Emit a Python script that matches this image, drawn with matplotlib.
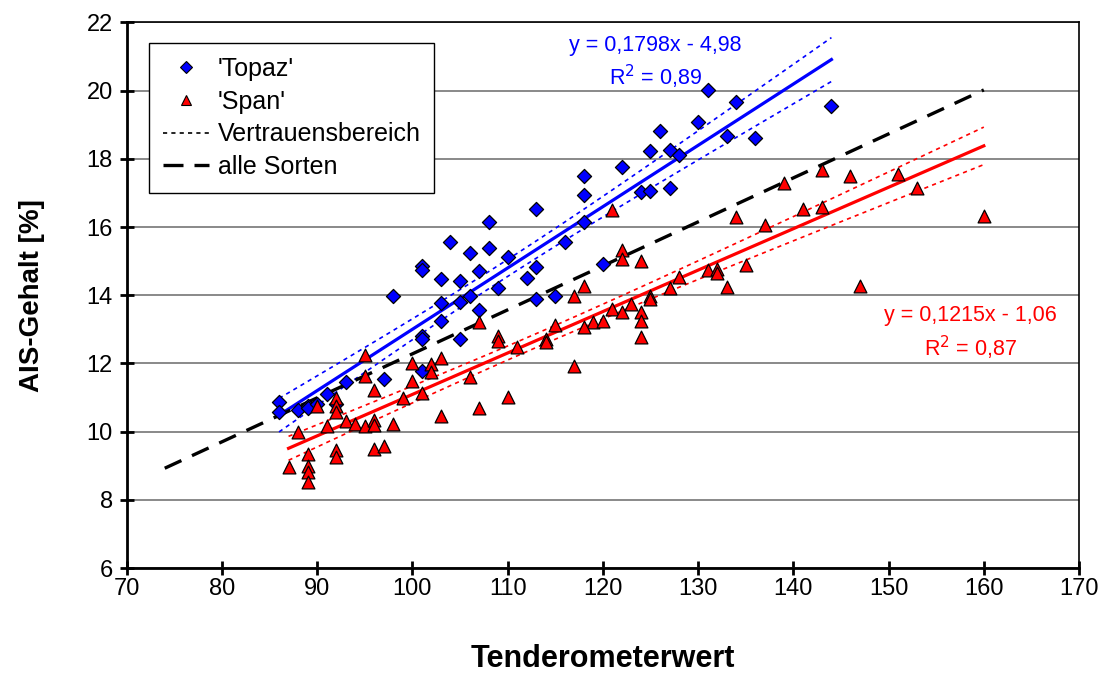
import numpy as np
import matplotlib
matplotlib.use("Agg")
import matplotlib.pyplot as plt
from matplotlib.lines import Line2D

plt.rcParams['font.family'] = ['Liberation Sans', 'DejaVu Sans']

# ---- data ----
topaz_x = [108, 104, 106, 108, 110, 101, 101, 107, 103, 105, 109, 131, 134, 130, 126,
           125, 127, 128, 133, 136, 122, 118, 118, 124, 125, 127, 113, 118, 116, 113,
           112, 120, 144, 98, 103, 105, 106, 107, 103, 101, 101, 105, 101, 97, 93,
           91, 86, 86, 88, 89, 89, 92, 90, 113, 115]
topaz_y = [16.14, 15.57, 15.24, 15.37, 15.11, 14.87, 14.75, 14.72, 14.47, 14.43, 14.20,
           20.02, 19.66, 19.07, 18.81, 18.24, 18.27, 18.11, 18.68, 18.60, 17.77, 17.50,
           16.94, 17.02, 17.05, 17.13, 16.53, 16.16, 15.57, 14.84, 14.50, 14.91, 19.54,
           13.99, 13.76, 13.81, 13.99, 13.57, 13.23, 12.81, 12.72, 12.72, 11.77, 11.54,
           11.46, 11.10, 10.86, 10.58, 10.64, 10.74, 10.68, 10.81, 10.80, 13.89, 13.97]

span_x = [95, 107, 109, 109, 103, 100, 102, 102, 95, 100, 106, 96, 101, 92, 99, 110,
          90, 92, 92, 107, 103, 91, 93, 94, 95, 96, 96, 98, 88, 96, 97, 92, 92, 87,
          89, 89, 89, 89,
          117, 118, 127, 133, 125, 125, 123, 121, 122, 124, 124, 119, 120, 118, 115,
          124, 114, 114, 111, 117,
          121, 134, 137, 122, 122, 124, 135, 131, 132, 132, 128,
          139, 143, 146, 151, 153, 141, 143, 160, 147]
span_y = [12.25, 13.20, 12.81, 12.67, 12.16, 12.01, 11.98, 11.74, 11.62, 11.49, 11.59,
          11.23, 11.13, 11.00, 11.00, 11.02, 10.76, 10.76, 10.58, 10.69, 10.47, 10.17,
          10.30, 10.22, 10.17, 10.35, 10.19, 10.22, 9.98, 9.49, 9.59, 9.46, 9.25, 8.95,
          9.34, 9.00, 8.82, 8.53,
          13.99, 14.28, 14.20, 14.23, 13.99, 13.89, 13.74, 13.60, 13.52, 13.52, 13.25,
          13.22, 13.23, 13.08, 13.13, 12.77, 12.72, 12.62, 12.47, 11.93,
          16.51, 16.28, 16.07, 15.33, 15.06, 14.99, 14.89, 14.74, 14.77, 14.65, 14.52,
          17.29, 17.67, 17.49, 17.55, 17.15, 16.53, 16.58, 16.32, 14.26]

# regression coefficients as printed on the chart
topaz_fit = (0.1798, -4.98)
span_fit = (0.1215, -1.06)
all_fit = (0.129, -0.62)          # "alle Sorten"
all_range = (74, 160)

topaz_label = "y = 0,1798x - 4,98\nR$^2$ = 0,89"
span_label = "y = 0,1215x - 1,06\nR$^2$ = 0,87"

BLUE = "#0000FF"
RED = "#FF0000"

fig = plt.figure(figsize=(11.09, 6.75), dpi=100)
ax = fig.add_axes([0.1142, 0.1585, 0.8588, 0.8083])


def conf_band(x, y, fit, t=2.0):
    x = np.asarray(x, float)
    y = np.asarray(y, float)
    m, b = fit
    res = y - (m * x + b)
    n = len(x)
    s = np.sqrt(np.sum(res ** 2) / (n - 2))
    xm = x.mean()
    sxx = np.sum((x - xm) ** 2)
    xs = np.linspace(x.min(), x.max(), 100)
    yc = m * xs + b
    half = t * s * np.sqrt(1.0 / n + (xs - xm) ** 2 / sxx)
    return xs, yc, yc - half, yc + half


for xd, yd, fit, col in [(topaz_x, topaz_y, topaz_fit, BLUE), (span_x, span_y, span_fit, RED)]:
    xs, yc, lo, hi = conf_band(xd, yd, fit)
    ax.plot(xs, lo, color=col, lw=1.2, ls=(0, (2.5, 2.5)), zorder=3)
    ax.plot(xs, hi, color=col, lw=1.2, ls=(0, (2.5, 2.5)), zorder=3)
    ax.plot(xs, yc, color=col, lw=2.3, zorder=3)

xa = np.array(all_range, float)
ax.plot(xa, all_fit[0] * xa + all_fit[1], color="black", lw=2.4,
        ls=(0, (5.5, 3.5)), zorder=3)

ax.scatter(topaz_x, topaz_y, marker="D", s=52, facecolor=BLUE, edgecolor="black",
           linewidth=0.9, zorder=4)
ax.scatter(span_x, span_y, marker="^", s=85, facecolor=RED, edgecolor="black",
           linewidth=0.9, zorder=4)

ax.text(125.5, 20.82, topaz_label, color=BLUE, fontsize=15.5, ha="center", va="center",
        linespacing=1.3)
ax.text(158.6, 12.88, span_label, color=RED, fontsize=15.5, ha="center", va="center",
        linespacing=1.35)

ax.set_xlim(70, 170)
ax.set_ylim(6, 22)
ax.set_xticks(np.arange(70, 171, 10))
ax.set_yticks(np.arange(6, 23, 2))
ax.yaxis.grid(True, color="#808080", lw=1.3)
ax.set_axisbelow(True)
for sp in ax.spines.values():
    sp.set_linewidth(1.2)
ax.spines["left"].set_linewidth(2)
ax.spines["bottom"].set_linewidth(2)
ax.tick_params(axis="both", direction="inout", length=10, width=2, labelsize=17)
ax.tick_params(axis="x", pad=2)
ax.tick_params(axis="y", pad=5)

ax.set_xlabel("Tenderometerwert", fontsize=22, fontweight="bold", labelpad=32)
ax.set_ylabel("AIS-Gehalt [%]", fontsize=20, fontweight="bold", labelpad=30)

handles = [
    Line2D([], [], marker="D", ls="none", markersize=6, markerfacecolor=BLUE,
           markeredgecolor="black", markeredgewidth=0.8),
    Line2D([], [], marker="^", ls="none", markersize=7, markerfacecolor=RED,
           markeredgecolor="black", markeredgewidth=0.8),
    Line2D([], [], color="black", lw=1.2, ls=(0, (2.5, 2.5))),
    Line2D([], [], color="black", lw=2.4, ls=(0, (6, 3.3))),
]
labels = ["'Topaz'", "'Span'", "Vertrauensbereich", "alle Sorten"]
leg = ax.legend(handles, labels, loc="upper left", bbox_to_anchor=(0.0234, 0.962),
                fontsize=18, frameon=True, fancybox=False, edgecolor="black",
                framealpha=1, handlelength=1.85, handletextpad=0.35, labelspacing=0.35,
                borderpad=0.55, borderaxespad=0)
leg.get_frame().set_linewidth(1.0)

fig.savefig("out.png", dpi=100)
